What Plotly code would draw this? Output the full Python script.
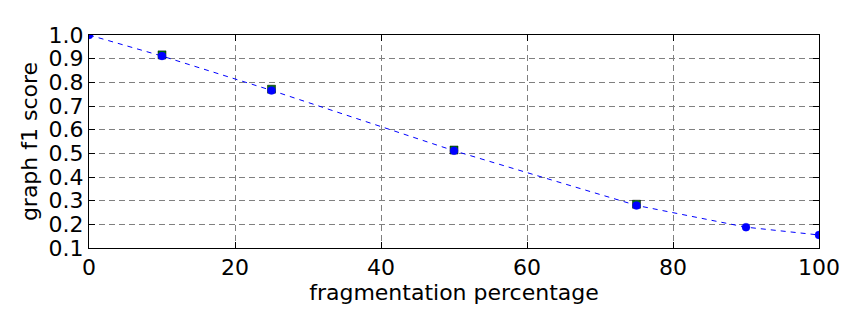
import plotly.graph_objects as go

frag_pct = [0, 10, 25, 50, 75, 90, 100]
f1_mean = [1.0, 0.911, 0.766, 0.511, 0.280, 0.188, 0.155]
f1_alt = [None, 0.916, 0.771, 0.514, 0.285, None, None]

fig = go.Figure()
fig.add_trace(go.Scatter(x=frag_pct, y=f1_mean, mode="lines",
                         line=dict(color="blue", width=1, dash="5px,5px"),
                         showlegend=False, hoverinfo="skip"))
fig.add_trace(go.Scatter(x=frag_pct, y=f1_alt, mode="markers",
                         marker=dict(symbol="square", color="green", size=8,
                                     line=dict(color="black", width=0.5)),
                         showlegend=False))
fig.add_trace(go.Scatter(x=frag_pct, y=f1_mean, mode="markers",
                         marker=dict(symbol="circle", color="blue", size=8,
                                     line=dict(color="blue", width=0.3)),
                         showlegend=False))

axis_common = dict(
    showline=True, linecolor="black", linewidth=1, mirror="allticks",
    ticks="inside", ticklen=6, tickcolor="black",
    showgrid=True, gridcolor="#808080", griddash="6px,4px", gridwidth=1,
    zeroline=False, tickfont=dict(family="DejaVu Sans", size=22, color="black"),
)

fig.update_xaxes(range=[0, 100], dtick=20, tick0=0,
                 title=dict(text="fragmentation percentage",
                            font=dict(family="DejaVu Sans", size=22, color="black"),
                            standoff=4),
                 **axis_common)
fig.update_yaxes(range=[0.1, 1.0], dtick=0.1, tick0=0.1, tickformat=".1f",
                 title=dict(text="graph f1 score",
                            font=dict(family="DejaVu Sans", size=22, color="black"),
                            standoff=4),
                 **axis_common)

fig.update_layout(
    width=864, height=324,
    margin=dict(l=81, r=53, t=27, b=84),
    paper_bgcolor="white", plot_bgcolor="white",
    font=dict(family="DejaVu Sans", color="black"),
)

fig.write_html("out.html")
